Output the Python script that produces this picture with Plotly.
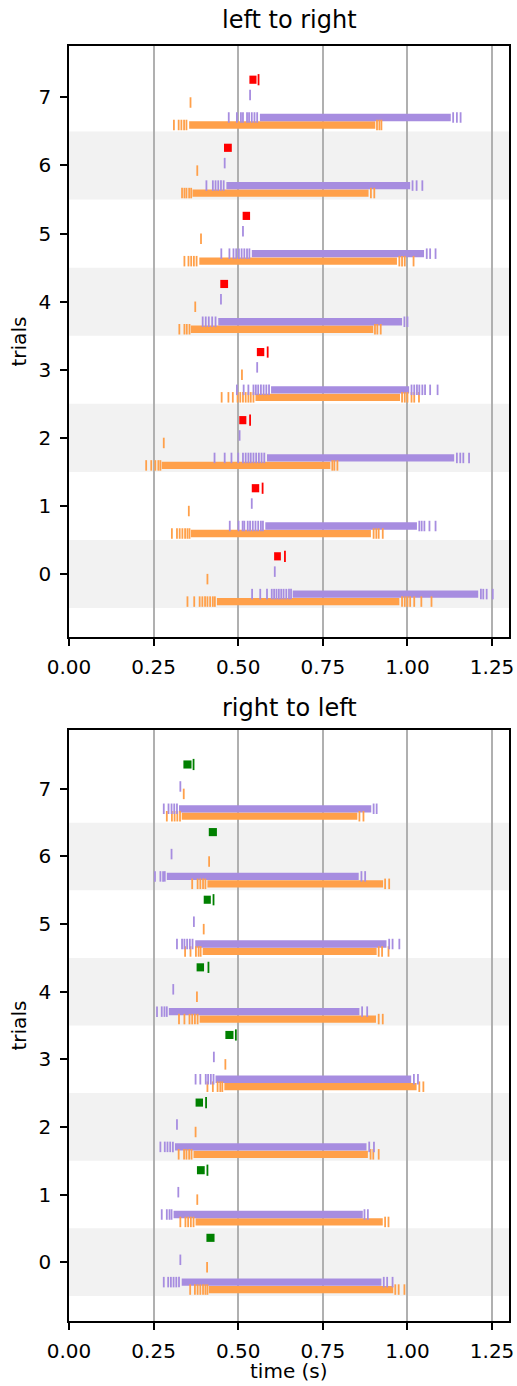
import plotly.graph_objects as go

# ---------------- data (times in seconds, trials 0..7) ----------------
TRIALS = list(range(8))
X_TICKS = [0.0, 0.25, 0.5, 0.75, 1.0, 1.25]
X_TICK_LABELS = ["0.00", "0.25", "0.50", "0.75", "1.00", "1.25"]
Y_TICKS = [0, 1, 2, 3, 4, 5, 6, 7]
Y_TICK_LABELS = ["0", "1", "2", "3", "4", "5", "6", "7"]
TITLES = ["left to right", "right to left"]
Y_LABEL = "trials"
X_LABEL = "time (s)"

# ---- left to right ----
LR_ORANGE_DENSE = [(0.437, 0.976), (0.360, 0.892), (0.274, 0.772), (0.551, 0.978),
                   (0.360, 0.899), (0.385, 0.969), (0.365, 0.885), (0.355, 0.905)]
LR_ORANGE_SPIKES = [
    [0.350, 0.370, 0.386, 0.394, 0.402, 0.409, 0.417, 0.425, 0.431, 0.984, 0.992, 1.000, 1.008, 1.020, 1.041, 1.071],
    [0.304, 0.319, 0.327, 0.335, 0.343, 0.350, 0.356, 0.900, 0.908, 0.915, 0.927],
    [0.228, 0.243, 0.255, 0.264, 0.270, 0.778, 0.784, 0.793],
    [0.451, 0.471, 0.484, 0.498, 0.506, 0.514, 0.522, 0.530, 0.537, 0.545, 0.984, 0.992, 1.000, 1.012, 1.020, 1.034],
    [0.326, 0.341, 0.348, 0.356, 0.904, 0.911, 0.921],
    [0.341, 0.353, 0.361, 0.369, 0.377, 0.976, 0.984, 0.992, 1.018],
    [0.334, 0.341, 0.347, 0.355, 0.361, 0.892, 0.902],
    [0.310, 0.324, 0.332, 0.340, 0.347, 0.910, 0.917, 0.923],
]
LR_PURPLE_DENSE = [(0.661, 1.209), (0.580, 1.028), (0.585, 1.138), (0.597, 1.005),
                   (0.441, 0.984), (0.540, 1.049), (0.465, 1.008), (0.564, 1.128)]
LR_PURPLE_SPIKES = [
    [0.541, 0.565, 0.585, 0.599, 0.606, 0.613, 0.620, 0.627, 0.634, 0.642, 0.650, 0.656, 1.217, 1.224, 1.234, 1.252],
    [0.475, 0.501, 0.513, 0.518, 0.528, 0.535, 0.543, 0.551, 0.559, 0.567, 0.573, 1.035, 1.042, 1.050, 1.065, 1.083],
    [0.430, 0.460, 0.480, 0.500, 0.514, 0.522, 0.530, 0.537, 0.545, 0.553, 0.561, 0.569, 0.577, 1.146, 1.156, 1.165, 1.182],
    [0.496, 0.516, 0.530, 0.545, 0.552, 0.559, 0.567, 0.575, 0.583, 0.591, 1.012, 1.020, 1.028, 1.035, 1.044, 1.052, 1.067, 1.089],
    [0.395, 0.404, 0.413, 0.423, 0.433, 0.991, 1.000],
    [0.450, 0.474, 0.486, 0.494, 0.502, 0.510, 0.518, 0.526, 0.533, 1.057, 1.067, 1.083],
    [0.406, 0.425, 0.433, 0.441, 0.449, 0.457, 1.015, 1.027, 1.044],
    [0.472, 0.496, 0.508, 0.514, 0.526, 0.532, 0.540, 0.548, 0.556, 1.135, 1.146, 1.157],
]
LR_ORANGE_SOLO = [0.409, 0.354, 0.280, 0.511, 0.373, 0.390, 0.379, 0.359]
LR_PURPLE_SOLO = [0.608, 0.540, 0.504, 0.556, 0.449, 0.514, 0.460, 0.535]
LR_MARK_BLOCK = [(0.606, 0.626), (0.540, 0.562), (0.503, 0.524), (0.555, 0.577),
                 (0.447, 0.470), (0.513, 0.535), (0.458, 0.481), (0.533, 0.554)]
LR_MARK_SPIKES = [[0.638], [0.572], [0.535], [0.587], [], [], [], [0.560]]

# ---- right to left ----
RL_ORANGE_DENSE = [(0.413, 0.958), (0.374, 0.927), (0.368, 0.883), (0.459, 1.027),
                   (0.386, 0.907), (0.395, 0.909), (0.409, 0.928), (0.333, 0.852)]
RL_ORANGE_SPIKES = [
    [0.358, 0.372, 0.380, 0.388, 0.396, 0.403, 0.409, 0.964, 0.974, 0.991],
    [0.329, 0.344, 0.352, 0.360, 0.368, 0.934, 0.944],
    [0.324, 0.340, 0.347, 0.355, 0.362, 0.891, 0.899, 0.915],
    [0.409, 0.425, 0.439, 0.447, 0.453, 1.035, 1.047],
    [0.325, 0.341, 0.356, 0.364, 0.372, 0.380, 0.915, 0.927],
    [0.343, 0.359, 0.375, 0.383, 0.389, 0.915, 0.925, 0.944],
    [0.364, 0.380, 0.388, 0.396, 0.403, 0.934, 0.946],
    [0.289, 0.304, 0.312, 0.320, 0.328, 0.858, 0.870],
]
RL_PURPLE_DENSE = [(0.333, 0.923), (0.309, 0.868), (0.313, 0.879), (0.433, 1.011),
                   (0.295, 0.858), (0.373, 0.938), (0.289, 0.856), (0.325, 0.893)]
RL_PURPLE_SPIKES = [
    [0.280, 0.293, 0.301, 0.309, 0.317, 0.325, 0.930, 0.940, 0.956],
    [0.274, 0.289, 0.297, 0.303, 0.873, 0.883],
    [0.270, 0.283, 0.291, 0.299, 0.307, 0.887, 0.901],
    [0.374, 0.388, 0.404, 0.411, 0.419, 0.427, 1.019, 1.031],
    [0.260, 0.274, 0.282, 0.289, 0.866, 0.881],
    [0.319, 0.334, 0.341, 0.349, 0.357, 0.365, 0.946, 0.956, 0.976],
    [0.254, 0.270, 0.278, 0.283, 0.864, 0.875],
    [0.280, 0.294, 0.303, 0.311, 0.319, 0.900, 0.909],
]
RL_ORANGE_SOLO = [0.408, 0.379, 0.374, 0.462, 0.378, 0.398, 0.414, 0.339]
RL_PURPLE_SOLO = [0.329, 0.323, 0.319, 0.428, 0.308, 0.369, 0.303, 0.329]
RL_MARK_BLOCK = [(0.406, 0.430), (0.378, 0.401), (0.374, 0.396), (0.462, 0.486),
                 (0.377, 0.399), (0.398, 0.419), (0.413, 0.437), (0.338, 0.362)]
RL_MARK_SPIKES = [[], [0.409], [0.405], [0.493], [0.412], [0.427], [], [0.368]]

# ---------------- styling / layout constants ----------------
OFF_ORANGE_ROW = -0.405
OFF_PURPLE_ROW = -0.295
OFF_ORANGE_SOLO = -0.075
OFF_PURPLE_SOLO = 0.035
OFF_MARK = [0.26, 0.36]
ROW_H = 0.108
MARK_H = 0.12
ORANGE = "#ffa04a"
PURPLE = "#a78de0"
MARK_COLORS = ["#ff0000", "#008000"]
BAND = "#f2f2f2"
GRID = "#b0b0b0"
FONT = "DejaVu Sans"

W, H = 517, 1386
ML, MR = 69, 8
PLOT_W = W - ML - MR
PANELS_PX = [(46, 637), (730, 1321)]   # top/bottom pixel of each axes box
YRANGES = [[-0.925, 7.755], [-0.87, 7.87]]
TITLE_PX = [36, 724]                      # bottom anchor of each title


def frac(px):
    return 1 - px / H


fig = go.Figure()

panels = [
    (LR_ORANGE_DENSE, LR_ORANGE_SPIKES, LR_PURPLE_DENSE, LR_PURPLE_SPIKES,
     LR_ORANGE_SOLO, LR_PURPLE_SOLO, LR_MARK_BLOCK, LR_MARK_SPIKES),
    (RL_ORANGE_DENSE, RL_ORANGE_SPIKES, RL_PURPLE_DENSE, RL_PURPLE_SPIKES,
     RL_ORANGE_SOLO, RL_PURPLE_SOLO, RL_MARK_BLOCK, RL_MARK_SPIKES),
]


def spike_trace(xs, ys, color, xa, ya, size=7.5):
    return go.Scatter(x=xs, y=ys, mode="markers", xaxis=xa, yaxis=ya,
                      marker=dict(symbol="line-ns", size=size,
                                  line=dict(width=1.8, color=color)),
                      showlegend=False, hoverinfo="x")


def bar_trace(dense, offset, color, height, xa, ya):
    return go.Bar(orientation="h",
                  y=[t + offset for t in TRIALS],
                  base=[s for s, e in dense],
                  x=[e - s for s, e in dense],
                  width=height, marker=dict(color=color, line=dict(width=0)),
                  xaxis=xa, yaxis=ya, showlegend=False, hoverinfo="skip")


for p, (od, osp, pd_, psp, osolo, psolo, mblock, mspk) in enumerate(panels):
    xa = "x" if p == 0 else "x2"
    ya = "y" if p == 0 else "y2"
    fig.add_trace(bar_trace(od, OFF_ORANGE_ROW, ORANGE, ROW_H, xa, ya))
    fig.add_trace(bar_trace(pd_, OFF_PURPLE_ROW, PURPLE, ROW_H, xa, ya))
    ox, oy = [], []
    for t in TRIALS:
        for s in osp[t]:
            ox.append(s); oy.append(t + OFF_ORANGE_ROW)
        ox.append(osolo[t]); oy.append(t + OFF_ORANGE_SOLO)
    fig.add_trace(spike_trace(ox, oy, ORANGE, xa, ya))
    px_, py_ = [], []
    for t in TRIALS:
        for s in psp[t]:
            px_.append(s); py_.append(t + OFF_PURPLE_ROW)
        px_.append(psolo[t]); py_.append(t + OFF_PURPLE_SOLO)
    fig.add_trace(spike_trace(px_, py_, PURPLE, xa, ya))
    fig.add_trace(bar_trace(mblock, OFF_MARK[p], MARK_COLORS[p], MARK_H, xa, ya))
    mx, my = [], []
    for t in TRIALS:
        for s in mspk[t]:
            mx.append(s); my.append(t + OFF_MARK[p])
    fig.add_trace(spike_trace(mx, my, MARK_COLORS[p], xa, ya, size=8))

    for t in TRIALS:
        if t % 2 == 0:
            fig.add_shape(type="rect", xref=f"{xa} domain", yref=ya,
                          x0=0, x1=1, y0=t - 0.5, y1=t + 0.5,
                          fillcolor=BAND, line=dict(width=0), layer="below")

axis_common = dict(showline=True, linecolor="black", linewidth=1.6, mirror=True,
                   ticks="outside", ticklen=7, tickwidth=1.6, tickcolor="black",
                   zeroline=False, automargin=False,
                   tickfont=dict(size=20, color="black", family=FONT))

layout_axes = {}
for p in range(2):
    top_px, bot_px = PANELS_PX[p]
    xk = "xaxis" if p == 0 else "xaxis2"
    yk = "yaxis" if p == 0 else "yaxis2"
    layout_axes[xk] = dict(axis_common, domain=[0, 1], range=[0, 1.3],
                           anchor="y" if p == 0 else "y2",
                           tickvals=X_TICKS, ticktext=X_TICK_LABELS,
                           showgrid=True, gridcolor=GRID, gridwidth=1.6,
                           ticklabelstandoff=4)
    layout_axes[yk] = dict(axis_common, domain=[frac(bot_px), frac(top_px)],
                           range=YRANGES[p], anchor="x" if p == 0 else "x2",
                           tickvals=Y_TICKS, ticktext=Y_TICK_LABELS,
                           showgrid=False, ticklabelstandoff=5)

annotations = []
for p in range(2):
    top_px, bot_px = PANELS_PX[p]
    annotations.append(dict(text=TITLES[p], x=0.5, xref="paper", y=frac(TITLE_PX[p]),
                            yref="paper", yanchor="bottom", xanchor="center",
                            showarrow=False, font=dict(size=24, family=FONT, color="black")))
    annotations.append(dict(text=Y_LABEL, x=-51 / PLOT_W, xref="paper",
                            y=frac((top_px + bot_px) / 2), yref="paper",
                            textangle=-90, xanchor="center", yanchor="middle",
                            showarrow=False, font=dict(size=20, family=FONT, color="black")))
annotations.append(dict(text=X_LABEL, x=0.5, xref="paper", y=frac(1371), yref="paper",
                        yanchor="middle", xanchor="center", showarrow=False,
                        font=dict(size=20, family=FONT, color="black")))

fig.update_layout(width=W, height=H, margin=dict(l=ML, r=MR, t=0, b=0, autoexpand=False),
                  paper_bgcolor="white", plot_bgcolor="white",
                  barmode="overlay", showlegend=False,
                  font=dict(family=FONT, size=20, color="black"),
                  annotations=annotations, **layout_axes)

fig.write_html("out.html",
               config={"displayModeBar": False},
               post_script="document.body.style.margin='0px';"
                           "document.body.style.overflow='hidden';"
                           "document.documentElement.style.overflow='hidden';")
